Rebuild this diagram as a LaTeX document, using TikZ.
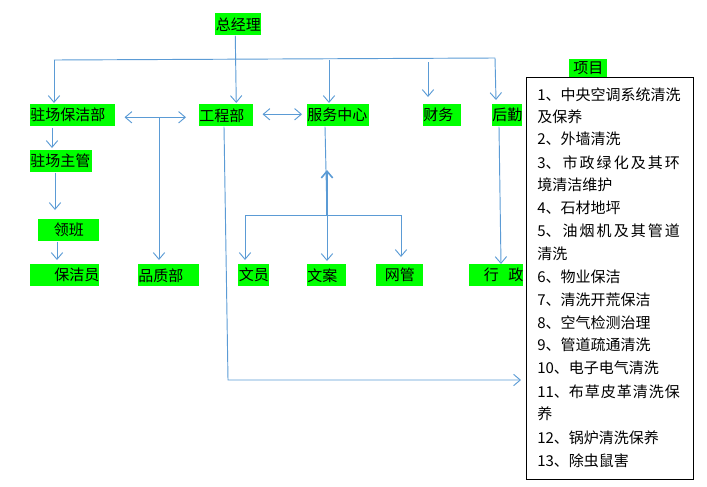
\documentclass[tikz,border=0pt]{standalone}
\usepackage{fontspec}
\newfontfamily\cjk{Noto Sans CJK SC}
\usetikzlibrary{arrows.meta,calc}
\definecolor{ln}{RGB}{91,155,213}
\definecolor{gr}{RGB}{0,255,0}
\begin{document}
\begin{tikzpicture}[x=0.75pt,y=-0.75pt,
  every node/.style={font=\cjk\fontsize{11.25pt}{13pt}\selectfont, inner sep=0pt},
  gbox/.style={fill=gr, anchor=north west, minimum height=16.5pt, text width=#1},
  conn/.style={draw=ln, line width=0.7pt},
  arr/.style={conn, -{Straight Barb[length=5pt,width=8.5pt]}},
  arrtwo/.style={conn, {Straight Barb[length=5pt,width=8.5pt]}-{Straight Barb[length=5pt,width=8.5pt]}},
  item/.style={anchor=west}
]
\useasboundingbox (0,0) rectangle (707,486);

% green boxes
\node[gbox=34.5pt, align=center] (gm) at (215,13) {总经理};
\node[gbox=63.75pt, align=left] (zcbj) at (30,104) {驻场保洁部};
\node[gbox=40.5pt, align=left] (gcb) at (199,104) {工程部};
\node[gbox=46.5pt, align=left] (fwzx) at (307,104) {服务中心};
\node[gbox=28.5pt, align=left] (cw) at (423,104) {财务};
\node[gbox=22.5pt, align=center] (hq) at (492,104) {后勤};
\node[gbox=46.5pt, align=left] (zczg) at (30,150) {驻场主管};
\node[gbox=45.75pt, align=center] (lb) at (38,219) {领班};
\node[gbox=51.75pt, align=right] (bjy) at (30,264) {保洁员\hspace{1.5pt}};
\node[gbox=45.75pt, align=left] (pzb) at (138,264) {品质部};
\node[gbox=23.25pt, align=center] (wy) at (238,264) {文员};
\node[gbox=29.25pt, align=left] (wa) at (307,264) {文案};
\node[gbox=35.25pt, align=center] (wg) at (376,264) {网管};
\node[gbox=40.5pt, align=right] (xz) at (469,264) {行\hspace{7pt}政};
\node[fill=gr, anchor=north west, minimum height=13.5pt, text width=28.5pt, align=center] (xm) at (569,59) {项目};

% project list box
\node[draw=black, line width=0.8pt, anchor=north west, minimum width=125.25pt, minimum height=301.5pt] (big) at (526,77) {};
\node[item] (t1) at (537,95) {1、中央空调系统清洗};
\node[item] (t2) at (537,117) {及保养};
\node[item] (t3) at (537,139) {2、外墙清洗};
\node[item] (t4) at (537,163) {\makebox[107pt][l]{3、\hfill 市\hfill 政\hfill 绿\hfill 化\hfill 及\hfill 其\hfill 环}};
\node[item] (t5) at (537,185) {境清洁维护};
\node[item] (t6) at (537,208) {4、石材地坪};
\node[item] (t7) at (537,231) {\makebox[107pt][l]{5、\hfill 油\hfill 烟\hfill 机\hfill 及\hfill 其\hfill 管\hfill 道}};
\node[item] (t8) at (537,254) {清洗};
\node[item] (t9) at (537,277) {6、物业保洁};
\node[item] (t10) at (537,300) {7、清洗开荒保洁};
\node[item] (t11) at (537,323) {8、空气检测治理};
\node[item] (t12) at (537,345) {9、管道疏通清洗};
\node[item] (t13) at (537,368) {10、电子电气清洗};
\node[item] (t14) at (537,392) {\makebox[107pt][l]{11、布\hfill 草\hfill 皮\hfill 革\hfill 清\hfill 洗\hfill 保}};
\node[item] (t15) at (537,414) {养};
\node[item] (t16) at (537,438) {12、锅炉清洗保养};
\node[item] (t17) at (537,461) {13、除虫鼠害};

% top bus
\coordinate (busL) at (54,60);
\coordinate (busR) at (495,58);
\draw[conn] (busL) -- (busR);
\draw[arr] ($(gm.south)+(-3,0)$) -- ($(gcb.north)+(10,-1)$);
\draw[arr] (busL) -- ($(zcbj.north west)+(24,-1)$);
\draw[arr] ($(fwzx.north west)+(22,-44)$) -- ($(fwzx.north west)+(22,-1)$);
\draw[arr] ($(cw.north west)+(5,-42)$) -- ($(cw.north west)+(5,-7)$);
\draw[arr] (busR) -- ($(hq.north west)+(4,-4)$);

% double arrows
\draw[arrtwo] ($(zcbj.east)+(9,2)$) -- ($(gcb.west)+(-13,2)$);
\coordinate (q) at (159,117);
\draw[arr] (q) -- ($(pzb.north west)+(21,-4)$);
\draw[arrtwo] ($(gcb.east)+(9,-1)$) -- ($(fwzx.west)+(-5,-1)$);

% left chain
\draw[arr] ($(zcbj.south west)+(22,1)$) -- ($(zczg.north west)+(22,-2)$);
\draw[arr] ($(zczg.south west)+(25,0)$) -- ($(lb.north west)+(17,-9)$);
\draw[arr] ($(lb.south west)+(19,0)$) -- ($(bjy.north west)+(27,-4)$);

% engineering to project box
\coordinate (c1) at (228,380);
\coordinate (c2) at (521,380);
\draw[arr] ($(gcb.south west)+(25,0)$) -- (c1) -- (c2);

% service center branch
\coordinate (j) at (327,215);
\coordinate (up) at (327,170);
\coordinate (jl) at (245,215);
\coordinate (jr) at (401,215);
\draw[conn] ($(fwzx.south west)+(18,0)$) -- (j);
\draw[arr, line width=1.2pt] (j) -- (up);
\draw[conn] (jl) -- (jr);
\draw[arr] (jl) -- ($(wy.north west)+(7,-4)$);
\draw[arr] (j) -- ($(wa.north west)+(20,-3)$);
\draw[arr] (jr) -- ($(wg.north west)+(25,-7)$);

% logistics to admin
\draw[arr] ($(hq.south west)+(7,0)$) -- ($(xz.north west)+(32,0)$);
\end{tikzpicture}
\end{document}
